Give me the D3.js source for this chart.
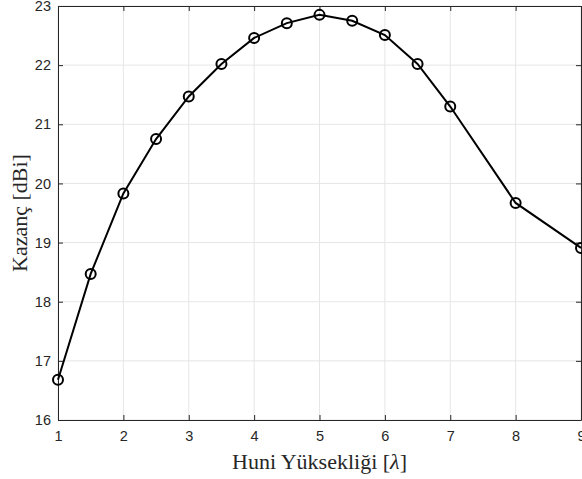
<!DOCTYPE html>
<html>
<head>
<meta charset="utf-8">
<script src="https://cdn.jsdelivr.net/npm/d3@7"></script>
<style>
  body { margin: 0; background: #fff; }
  .tick text { font-family: "Liberation Sans", Arial, sans-serif; font-size: 14.5px; fill: #262626; }
  .axis-label { font-family: "Liberation Serif", "Times New Roman", serif; font-size: 22px; fill: #262626; }
</style>
</head>
<body>
<script>
const w = 582;
const h = 479;
const margin = { top: 6, right: 1, bottom: 59, left: 58 };

// Huni yüksekliği (lambda) ve kazanç (dBi)
const heights = [1, 1.5, 2, 2.5, 3, 3.5, 4, 4.5, 5, 5.5, 6, 6.5, 7, 8, 9];
const gains = [16.68, 18.47, 19.83, 20.75, 21.47, 22.02, 22.46, 22.71, 22.85, 22.75, 22.51, 22.02, 21.30, 19.67, 18.91];
const xTicks = [1, 2, 3, 4, 5, 6, 7, 8, 9];
const yTicks = [16, 17, 18, 19, 20, 21, 22, 23];

const svg = d3.select("body").append("svg").attr("width", w).attr("height", h);

const x = d3.scaleLinear().domain([1, 9]).range([margin.left, w - margin.right]);
const y = d3.scaleLinear().domain([16, 23]).range([h - margin.bottom, margin.top]);

// grid
svg.append("g")
  .selectAll("line")
  .data(xTicks)
  .enter().append("line")
  .attr("x1", d => x(d)).attr("x2", d => x(d))
  .attr("y1", y(16)).attr("y2", y(23))
  .attr("stroke", "#e6e6e6").attr("stroke-width", 1);

svg.append("g")
  .selectAll("line")
  .data(yTicks)
  .enter().append("line")
  .attr("x1", x(1)).attr("x2", x(9))
  .attr("y1", d => y(d)).attr("y2", d => y(d))
  .attr("stroke", "#e6e6e6").attr("stroke-width", 1);

// axes (ticks pointing inward, MATLAB style)
const fmt = d3.format("d");
svg.append("g")
  .attr("transform", "translate(0," + y(16) + ")")
  .call(d3.axisBottom(x).tickValues(xTicks).tickFormat(fmt).tickSize(-5).tickPadding(11).tickSizeOuter(0));
svg.append("g")
  .attr("transform", "translate(" + x(1) + ",0)")
  .call(d3.axisLeft(y).tickValues(yTicks).tickFormat(fmt).tickSize(-5).tickPadding(7).tickSizeOuter(0));
svg.append("g")
  .attr("transform", "translate(0," + y(23) + ")")
  .call(d3.axisTop(x).tickValues(xTicks).tickSize(-5).tickFormat("").tickSizeOuter(0));
svg.append("g")
  .attr("transform", "translate(" + x(9) + ",0)")
  .call(d3.axisRight(y).tickValues(yTicks).tickSize(-5).tickFormat("").tickSizeOuter(0));

svg.selectAll(".domain").attr("stroke", "#262626");
svg.selectAll(".tick line").attr("stroke", "#262626");

// line
svg.append("path")
  .datum(heights.map((d, i) => [d, gains[i]]))
  .attr("fill", "none")
  .attr("stroke", "#000")
  .attr("stroke-width", 2)
  .attr("d", d3.line().x(d => x(d[0])).y(d => y(d[1])));

// markers
svg.append("g")
  .selectAll("circle")
  .data(heights.map((d, i) => [d, gains[i]]))
  .enter().append("circle")
  .attr("cx", d => x(d[0]))
  .attr("cy", d => y(d[1]))
  .attr("r", 5)
  .attr("fill", "none")
  .attr("stroke", "#000")
  .attr("stroke-width", 2);

// labels
const xl = svg.append("text")
  .attr("class", "axis-label")
  .attr("x", (x(1) + x(9)) / 2)
  .attr("y", 469)
  .attr("text-anchor", "middle");
xl.append("tspan").text("Huni Yüksekliği [");
xl.append("tspan").attr("font-style", "italic").text("λ");
xl.append("tspan").text("]");

svg.append("text")
  .attr("class", "axis-label")
  .attr("transform", "translate(27," + (y(16) + y(23)) / 2 + ") rotate(-90)")
  .attr("text-anchor", "middle")
  .text("Kazanç [dBi]");
</script>
</body>
</html>
